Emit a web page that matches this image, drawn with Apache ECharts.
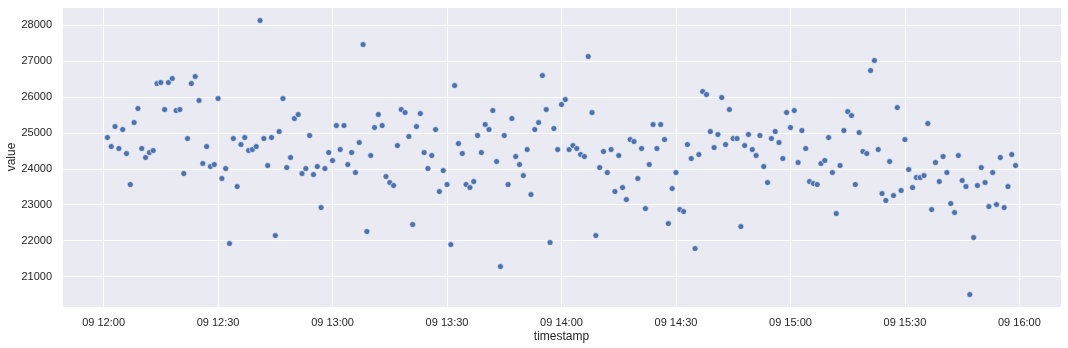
<!DOCTYPE html>
<html>
<head>
<meta charset="utf-8">
<script src="https://cdn.jsdelivr.net/npm/echarts@6/dist/echarts.min.js"></script>
<style>html,body{margin:0;padding:0;background:#fff;}#chart{width:1068px;height:348px;}</style>
</head>
<body>
<div id="chart"></div>
<script>
// first sample at 09 12:01, one sample per minute
const dayLabel = '09';
const startMinuteOfDay = 12 * 60 + 1;
const stepMinutes = 1;
const values = [
  24871,24620,25177,24565,25094,24425,23562,25289,25679,24565,
  24314,24453,24509,26375,26403,25651,26403,26514,25623,25651,
  23868,24843,26375,26570,25902,24147,24620,24063,24119,25957,
  23729,24007,21918,24843,23506,24676,24871,24509,24537,24620,
  28130,24843,24091,24871,22141,25038,25957,24035,24314,25400,
  25512,23868,24007,24927,23840,24063,22921,24007,24453,24230,
  25205,24537,25205,24119,24453,23896,24732,27461,22253,24370,
  25150,25512,25205,23785,23617,23534,24648,25651,25567,24899,
  22448,25177,25539,24453,24007,24370,25094,23367,23952,23562,
  21890,26319,24704,24425,23562,23478,23645,24927,24453,25233,
  25094,25623,24202,21278,24927,23562,25400,24342,24119,23812,
  24537,23283,25094,25289,26598,25651,21946,25122,24537,25790,
  25929,24537,24648,24565,24397,24342,27127,25567,22141,24035,
  24481,23896,24537,23367,24370,23478,23144,24815,24760,23729,
  24565,22893,24119,25233,24565,25233,24815,22475,23450,23896,
  22865,22810,24676,24286,21779,24397,26152,26069,25038,24592,
  24955,25985,24676,25651,24843,24843,22392,24648,24955,24537,
  24370,24927,24063,23617,24843,25038,24732,24286,25567,25150,
  25623,24175,25066,24565,23645,23590,23562,24147,24230,24871,
  23896,22754,24091,25066,25595,25484,23562,25010,24481,24425,
  26737,27016,24537,23311,23116,24202,23255,25707,23395,24815,
  23980,23478,23757,23757,23812,25261,22865,24175,23645,24342,
  23896,23033,22782,24370,23673,23506,20498,22085,23534,24035,
  23617,22949,23896,23005,24314,22921,23506,24397,24091
];
const xName = 'timestamp';
const yName = 'value';

const data = values.map((v, i) => [startMinuteOfDay + i * stepMinutes, v]);
const first = data[0][0], last = data[data.length - 1][0];
const pad = (last - first) * 0.05;
const two = n => (n < 10 ? '0' : '') + n;
const fmtTime = m => dayLabel + ' ' + two(Math.floor(m / 60)) + ':' + two(Math.round(m % 60));

const txt = '#262626';
const font = 'Liberation Sans, Arial, sans-serif';
const chart = echarts.init(document.getElementById('chart'), null, {renderer: 'canvas'});
chart.setOption({
  animation: false,
  backgroundColor: '#ffffff',
  grid: {left: 62, right: 7, top: 7, bottom: 41, show: true, backgroundColor: '#EAEAF2', borderWidth: 0,
         containLabel: false, outerBoundsMode: 'none'},
  xAxis: {
    type: 'value',
    min: first - pad,
    max: last + pad,
    splitNumber: 8,
    name: xName,
    nameLocation: 'middle',
    nameGap: 24,
    nameMoveOverlap: false,
    nameTextStyle: {color: txt, fontSize: 12, fontFamily: font},
    axisLine: {show: false},
    axisTick: {show: false},
    axisLabel: {
      color: txt, fontSize: 11, margin: 10, fontFamily: font,
      showMinLabel: false, showMaxLabel: false,
      formatter: v => fmtTime(v)
    },
    splitLine: {show: true, lineStyle: {color: '#ffffff', width: 1}}
  },
  yAxis: {
    type: 'value',
    min: 20152,
    max: 28507,
    splitNumber: 8,
    name: yName,
    nameLocation: 'middle',
    nameGap: 44,
    nameRotate: 90,
    nameMoveOverlap: false,
    nameTextStyle: {color: txt, fontSize: 12, fontFamily: font},
    axisLine: {show: false},
    axisTick: {show: false},
    axisLabel: {
      color: txt, fontSize: 11, margin: 10, fontFamily: font,
      showMinLabel: false, showMaxLabel: false,
      formatter: v => String(v)
    },
    splitLine: {show: true, lineStyle: {color: '#ffffff', width: 1}}
  },
  series: [{
    type: 'scatter',
    data: data,
    symbol: 'circle',
    symbolSize: 6,
    itemStyle: {color: '#4C72B0', borderColor: '#ffffff', borderWidth: 0.6, opacity: 1}
  }]
});
</script>
</body>
</html>
